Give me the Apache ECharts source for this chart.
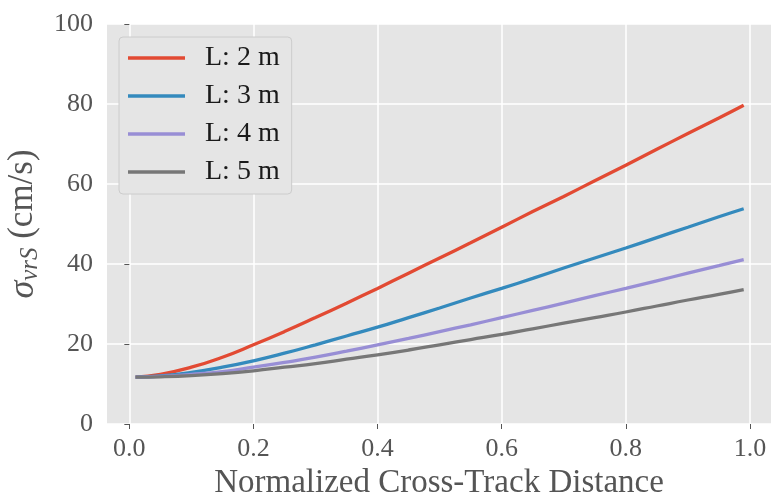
<!DOCTYPE html>
<html>
<head>
<meta charset="utf-8">
<script src="https://cdn.jsdelivr.net/npm/echarts@6/dist/echarts.min.js"></script>
<style>
  html, body { margin: 0; padding: 0; background: #fff; }
  #chart { width: 771px; height: 497px; }
</style>
</head>
<body>
<div id="chart"></div>
<script>
// normalized cross-track distance
const xVals = [0.01, 0.05, 0.10, 0.15, 0.20, 0.25, 0.30, 0.35, 0.40, 0.45, 0.50,
               0.55, 0.60, 0.65, 0.70, 0.75, 0.80, 0.85, 0.90, 0.95, 0.99];

// sigma (cm/s)
const l2 = [11.7, 12.4, 14.2, 16.7, 19.8, 23.1, 26.6, 30.2, 33.9, 37.7, 41.5,
            45.3, 49.2, 53.1, 56.9, 60.8, 64.7, 68.7, 72.6, 76.5, 79.7];
const l3 = [11.7, 12.0, 12.9, 14.2, 15.8, 17.7, 19.8, 22.0, 24.2, 26.6, 29.0,
            31.5, 33.9, 36.4, 39.0, 41.5, 44.0, 46.6, 49.2, 51.8, 53.8];
const l4 = [11.7, 11.9, 12.4, 13.1, 14.2, 15.4, 16.7, 18.2, 19.8, 21.4, 23.1,
            24.8, 26.6, 28.4, 30.2, 32.1, 33.9, 35.8, 37.7, 39.6, 41.1];
const l5 = [11.7, 11.8, 12.1, 12.6, 13.3, 14.2, 15.1, 16.2, 17.3, 18.5, 19.8,
            21.1, 22.4, 23.8, 25.2, 26.6, 28.0, 29.5, 31.0, 32.4, 33.6];

const names = ['L: 2 m', 'L: 3 m', 'L: 4 m', 'L: 5 m'];
const colors = ['#E24A33', '#348ABD', '#988ED5', '#777777'];
const xTicks = [0, 0.2, 0.4, 0.6, 0.8, 1.0];

const font = '"Liberation Serif", "DejaVu Serif", serif';

function pairs(ys) {
    return ys.map((y, i) => [xVals[i], y]);
}

const chart = echarts.init(document.getElementById('chart'));

const series = [l2, l3, l4, l5].map((ys, i) => ({
    name: names[i],
    type: 'line',
    data: pairs(ys),
    smooth: true,
    showSymbol: false,
    lineStyle: { color: colors[i], width: 3.3 },
    itemStyle: { color: colors[i] }
}));

chart.setOption({
    animation: false,
    backgroundColor: '#fff',
    textStyle: { fontFamily: font },
    grid: {
        left: 107, top: 24, right: 0, bottom: 73,
        outerBoundsMode: 'none',
        containLabel: false,
        show: true, backgroundColor: '#E5E5E5', borderWidth: 0
    },
    legend: {
        left: 119, top: 37,
        orient: 'vertical',
        icon: 'rect',
        itemWidth: 57, itemHeight: 3.3,
        itemGap: 10,
        padding: [7, 12, 8, 9],
        backgroundColor: '#E5E5E5',
        borderColor: '#CCCCCC', borderWidth: 1, borderRadius: 4,
        textStyle: { fontFamily: font, fontSize: 28, color: '#1a1a1a', lineHeight: 27, padding: [0, 0, 0, 15] },
        data: names
    },
    xAxis: {
        type: 'value',
        min: -0.036, max: 1.034,
        name: 'Normalized Cross-Track Distance',
        nameLocation: 'middle',
        nameGap: 35,
        nameTextStyle: { fontFamily: font, fontSize: 33, color: '#555' },
        axisLine: { show: false },
        axisTick: { show: true, length: 5, lineStyle: { color: '#555' }, customValues: xTicks },
        axisLabel: {
            customValues: xTicks, margin: 12,
            fontFamily: font, fontSize: 26, color: '#555',
            formatter: v => v.toFixed(1)
        },
        splitLine: { show: true, lineStyle: { color: '#fff', width: 1.5 } }
    },
    yAxis: {
        type: 'value',
        min: 0, max: 100, interval: 20,
        name: '{s|σ}{sub|vrS} (cm/s)',
        nameLocation: 'middle',
        nameGap: 63,
        nameTextStyle: {
            fontFamily: font, fontSize: 35, color: '#555',
            rich: {
                s: { fontFamily: font, fontSize: 36, fontStyle: 'italic', color: '#555' },
                sub: { fontFamily: font, fontSize: 25, fontStyle: 'italic', color: '#555', verticalAlign: 'bottom', padding: [15, 0, 0, 0] }
            }
        },
        axisLine: { show: false },
        axisTick: { show: true, length: 5, lineStyle: { color: '#555' } },
        axisLabel: { margin: 14, fontFamily: font, fontSize: 26, color: '#555' },
        splitLine: { show: true, lineStyle: { color: '#fff', width: 1.5 } }
    },
    series: series
});
</script>
</body>
</html>
